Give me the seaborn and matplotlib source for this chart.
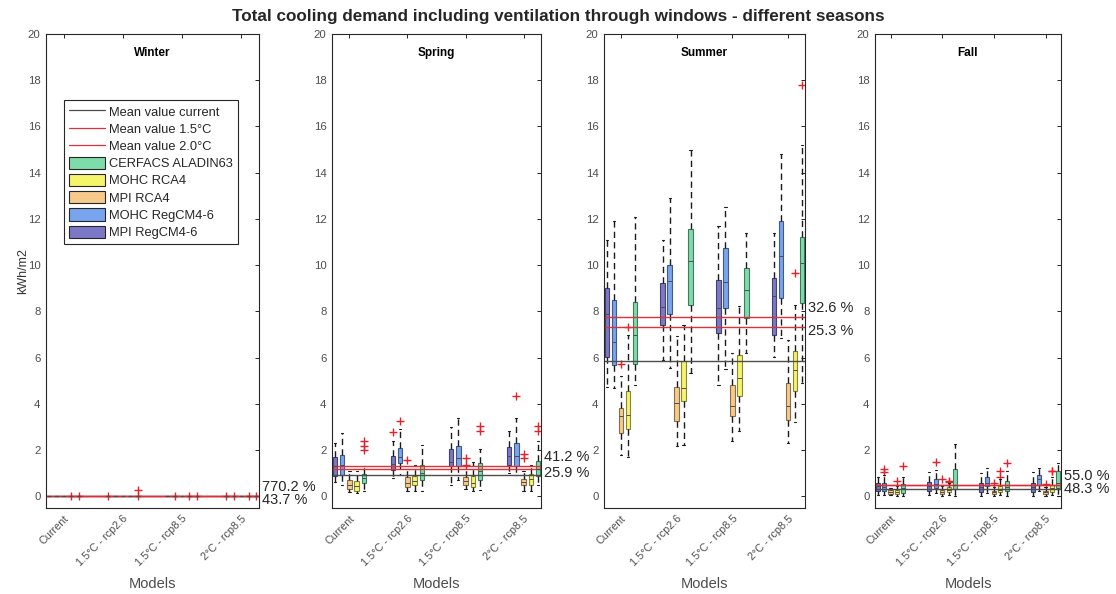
import numpy as np
import pandas as pd
import seaborn as sns
import matplotlib.pyplot as plt
from matplotlib.lines import Line2D
from matplotlib.patches import Patch
from matplotlib.colors import to_rgb

periods = ["Current", "1.5°C - rcp2.6", "1.5°C - rcp8.5", "2°C - rcp8.5"]
models = ["MPI RegCM4-6", "MOHC RegCM4-6", "MPI RCA4", "MOHC RCA4", "CERFACS ALADIN63"]
model_colors = ["#7b78c8", "#79a4ef", "#f7c98a", "#f6f46a", "#7ddcaa"]
seasons = ["Winter", "Spring", "Summer", "Fall"]

# box stats per period, per model: (whisker low, q1, median, q3, whisker high)
winter_boxes = [
    [(0, 0, 0, 0.005, 0.01)] * 5,
    [(0, 0, 0, 0.005, 0.01)] * 5,
    [(0, 0, 0, 0.005, 0.01)] * 5,
    [(0, 0, 0, 0.005, 0.01)] * 5,
]
spring_boxes = [
    [(0.62, 0.89, 1.30, 1.71, 2.30), (0.50, 0.94, 1.35, 1.80, 2.74), (0.19, 0.33, 0.50, 0.72, 1.08),
     (0.13, 0.22, 0.45, 0.68, 1.08), (0.22, 0.58, 0.80, 0.99, 1.30)],
    [(0.79, 1.14, 1.40, 1.76, 2.40), (0.94, 1.44, 1.70, 2.09, 2.90), (0.24, 0.39, 0.60, 0.82, 1.20),
     (0.22, 0.50, 0.65, 0.89, 1.37), (0.22, 0.72, 1.00, 1.37, 2.23)],
    [(0.50, 1.30, 1.50, 2.06, 3.00), (0.72, 1.30, 1.65, 2.20, 3.41), (0.32, 0.48, 0.65, 0.82, 1.30),
     (0.22, 0.39, 0.60, 0.88, 1.50), (0.29, 0.70, 1.10, 1.44, 2.06)],
    [(1.00, 1.34, 1.75, 2.13, 2.81), (0.94, 1.30, 1.75, 2.30, 3.40), (0.24, 0.48, 0.62, 0.76, 1.08),
     (0.22, 0.50, 0.75, 0.97, 1.37), (0.50, 0.89, 1.20, 1.54, 2.38)],
]
summer_boxes = [
    [(4.75, 6.05, 7.90, 9.00, 11.1), (4.68, 5.69, 6.70, 8.50, 11.9), (1.80, 2.74, 3.46, 3.82, 5.19),
     (1.70, 2.91, 3.53, 4.54, 6.99), (4.83, 5.73, 6.99, 8.43, 12.1)],
    [(5.90, 7.42, 8.21, 9.22, 11.1), (5.55, 7.88, 9.32, 10.0, 12.9), (2.16, 3.26, 4.06, 4.75, 6.92),
     (2.23, 4.14, 4.68, 5.84, 7.42), (5.33, 8.29, 10.2, 11.56, 15.0)],
    [(4.83, 7.06, 8.14, 9.37, 11.7), (5.50, 8.14, 9.29, 10.73, 12.5), (2.38, 3.46, 3.92, 4.83, 6.20),
     (2.84, 4.35, 5.12, 6.12, 8.24), (6.20, 7.71, 8.93, 9.87, 11.4)],
    [(6.05, 6.99, 8.65, 9.44, 11.4), (6.84, 8.57, 10.4, 11.9, 14.8), (2.30, 3.31, 3.92, 4.90, 6.77),
     (3.20, 4.54, 5.48, 6.27, 8.29), (4.90, 8.36, 10.1, 11.24, 15.2)],
]
fall_boxes = [
    [(0.07, 0.22, 0.43, 0.58, 0.86), (0.07, 0.22, 0.40, 0.58, 0.92), (0.07, 0.12, 0.20, 0.29, 0.36),
     (0.04, 0.12, 0.18, 0.26, 0.43), (0.04, 0.17, 0.35, 0.55, 0.86)],
    [(0.07, 0.22, 0.43, 0.62, 1.04), (0.14, 0.36, 0.55, 0.76, 1.15), (0.04, 0.12, 0.20, 0.29, 0.43),
     (0.07, 0.19, 0.28, 0.39, 0.58), (0.03, 0.33, 0.50, 1.20, 2.25)],
    [(0.04, 0.19, 0.40, 0.58, 1.00), (0.14, 0.43, 0.60, 0.82, 1.22), (0.04, 0.12, 0.18, 0.25, 0.40),
     (0.07, 0.19, 0.30, 0.46, 0.75), (0.04, 0.22, 0.40, 0.65, 1.08)],
    [(0.04, 0.19, 0.40, 0.58, 1.04), (0.22, 0.50, 0.75, 0.94, 1.22), (0.04, 0.12, 0.18, 0.25, 0.40),
     (0.07, 0.19, 0.35, 0.50, 0.86), (0.04, 0.36, 0.60, 1.12, 1.44)],
]

# outliers: (period index, model index, value)
winter_out = [(0, 3, 0.02), (0, 4, 0.02), (1, 0, 0.02), (1, 4, 0.02), (1, 4, 0.3),
              (2, 1, 0.02), (2, 3, 0.02), (2, 4, 0.02),
              (3, 0, 0.02), (3, 1, 0.02), (3, 3, 0.02), (3, 4, 0.02)]
spring_out = [(0, 4, 2.38), (0, 4, 2.2), (0, 4, 2.02), (1, 0, 2.78), (1, 1, 3.27), (1, 2, 1.57),
              (2, 2, 1.68), (2, 2, 1.35), (2, 4, 3.03), (2, 4, 2.81),
              (3, 1, 4.34), (3, 2, 1.83), (3, 2, 1.68), (3, 4, 3.05), (3, 4, 2.82)]
summer_out = [(0, 2, 5.73), (0, 3, 7.32), (3, 3, 9.65), (3, 4, 17.8)]
fall_out = [(0, 1, 1.2), (0, 1, 1.04), (0, 3, 0.65), (0, 4, 1.3),
            (1, 1, 1.48), (1, 2, 0.76), (1, 3, 0.65), (1, 3, 0.63),
            (2, 2, 0.58), (2, 3, 1.12), (2, 3, 0.84), (2, 4, 1.44),
            (3, 2, 0.55), (3, 3, 1.12), (3, 3, 1.10)]

# mean lines and percentage labels
mean_current = [0.004, 0.94, 5.84, 0.33]
mean_15 = [0.035, 1.33, 7.74, 0.51]
mean_20 = [0.006, 1.18, 7.32, 0.49]
pct_upper = ["770.2 %", "41.2 %", "32.6 %", "55.0 %"]
pct_lower = ["43.7 %", "25.9 %", "25.3 %", "48.3 %"]

all_boxes = [winter_boxes, spring_boxes, summer_boxes, fall_boxes]
all_out = [winter_out, spring_out, summer_out, fall_out]

rows = []
for s, boxes in zip(seasons, all_boxes):
    for p, per in zip(periods, boxes):
        for m, stats in zip(models, per):
            for v in stats:
                rows.append((s, p, m, v))
df = pd.DataFrame(rows, columns=["season", "period", "model", "value"])

sns.set_style("white")
plt.rcParams["font.family"] = ["Liberation Sans", "DejaVu Sans"]

fig = plt.figure(figsize=(11.16, 5.94), dpi=100)
W, H = 1116, 594
positions = [[46, 213], [332, 209], [604, 201], [875, 186]]
offsets = (np.arange(5) - 2) * 0.125

def darker(c, f=0.55):
    r, g, b = to_rgb(c)
    return (r * f, g * f, b * f)

for i, s in enumerate(seasons):
    left, width = positions[i]
    ax = fig.add_axes([left / W, 86 / H, width / W, 474 / H])
    sub = df[df.season == s]
    sns.boxplot(data=sub, x="period", y="value", hue="model", order=periods, hue_order=models,
                palette=model_colors, saturation=1, width=0.625, gap=0.38, whis=(0, 100),
                linecolor="0.2", linewidth=0.8, fliersize=0, legend=False, ax=ax,
                whiskerprops=dict(color="0.1", linestyle=(0, (4.5, 3)), linewidth=1.0),
                capprops=dict(color="0.1", linewidth=0.8),
                medianprops=dict(color="0.3", linewidth=0.7))
    for patch in ax.patches:
        patch.set_edgecolor(darker(patch.get_facecolor()))

    out = all_out[i]
    xs = [p + offsets[m] for p, m, v in out]
    ys = [v for p, m, v in out]
    sns.scatterplot(x=xs, y=ys, marker="+", color="#e8202a", s=40, linewidth=1.0, ax=ax, legend=False)

    ax.axhline(mean_current[i], color="0.3", lw=1.0)
    ax.axhline(mean_15[i], color="#e0303a", lw=1.0)
    ax.axhline(mean_20[i], color="#e0303a", lw=1.0)

    up = max(mean_15[i], mean_20[i])
    lo = min(mean_15[i], mean_20[i])
    trans = ax.get_yaxis_transform()
    ax.annotate(pct_upper[i], (1.0, up), xycoords=trans, xytext=(2, 1.5), textcoords="offset points",
                ha="left", va="bottom", fontsize=10.5, color="0.15", annotation_clip=False)
    ax.annotate(pct_lower[i], (1.0, lo), xycoords=trans, xytext=(2, -3), textcoords="offset points",
                ha="left", va="center", fontsize=10.5, color="0.15", annotation_clip=False)

    ax.set_xlim(-0.3, 3.3)
    ax.set_ylim(-0.5, 20)
    ax.set_yticks(range(0, 21, 2))
    ax.set_xticks(range(4))
    ax.set_xticklabels(periods, rotation=45, ha="right", rotation_mode="anchor")
    ax.tick_params(direction="in", top=True, right=True, length=3, width=0.7, color="0.15",
                   labelcolor="0.3", pad=4)
    ax.tick_params(axis="x", labelsize=7.8)
    ax.tick_params(axis="y", labelsize=8.2)
    for sp in ax.spines.values():
        sp.set_color("0.15")
        sp.set_linewidth(0.8)
    ax.text(0.5, 0.96, s, transform=ax.transAxes, ha="center", va="center",
            fontsize=8.5, fontweight="bold", color="black")
    ax.set_xlabel("Models", fontsize=10.5, color="0.3")
    ax.xaxis.set_label_coords(0.5, -0.145)
    if i == 0:
        ax.set_ylabel("kWh/m2", fontsize=9, color="0.2")
        ax.yaxis.set_label_coords(-0.08, 0.5)
        handles = [Line2D([], [], color="0.3", lw=0.9, label="Mean value current"),
                   Line2D([], [], color="#e0303a", lw=0.9, label="Mean value 1.5°C"),
                   Line2D([], [], color="#e0303a", lw=0.9, label="Mean value 2.0°C")]
        for m, c in list(zip(models, model_colors))[::-1]:
            handles.append(Patch(facecolor=c, edgecolor="0.15", lw=0.8, label=m))
        leg = ax.legend(handles=handles, loc="upper left", bbox_to_anchor=(0.085, 0.861),
                        fontsize=9.3, frameon=True, fancybox=False, framealpha=1,
                        edgecolor="0.15", labelspacing=0.28, handlelength=2.8,
                        handleheight=1.1, handletextpad=0.3, borderpad=0.4, borderaxespad=0)
        leg.get_frame().set_linewidth(0.8)
    else:
        ax.set_ylabel("")

fig.suptitle("Total cooling demand including ventilation through windows - different seasons",
             fontsize=12.3, fontweight="bold", y=0.985)
fig.savefig("out.png", dpi=100)
